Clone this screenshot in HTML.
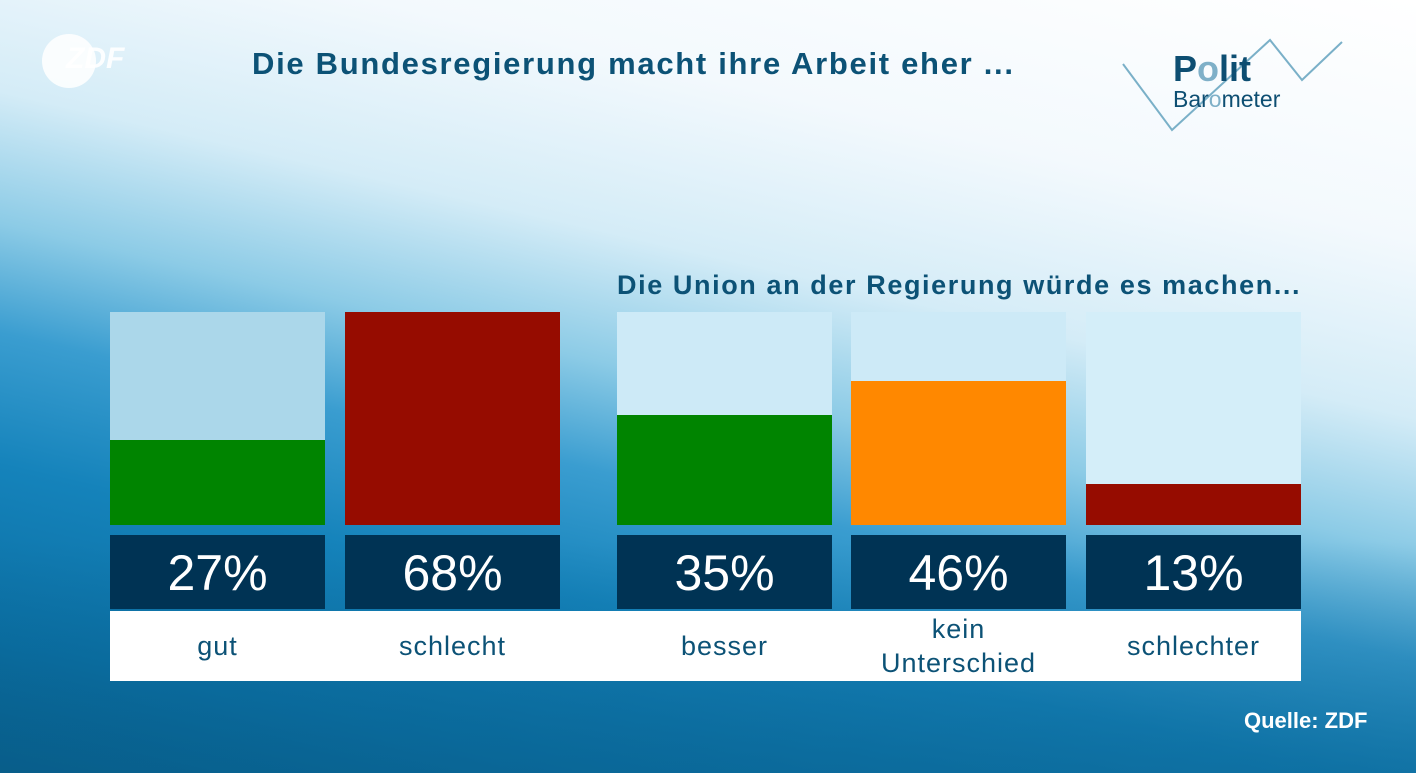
<!DOCTYPE html>
<html><head><meta charset="utf-8"><style>
body{margin:0;width:1416px;height:773px;overflow:hidden;font-family:"Liberation Sans",sans-serif;}
#bg{position:absolute;left:0;top:0;width:1416px;height:773px;
background:
linear-gradient(to bottom, rgba(8,90,130,0) 70%, rgba(8,95,140,0.5) 100%),
linear-gradient(193deg,#ffffff 0%,#f3f9fd 22%,#d4ecf7 38%,#8ccbe6 50%,#3a9dd0 60%,#1583bb 72%,#0b6fa3 88%,#085c88 100%);}
.t{position:absolute;color:#0c5276;font-weight:bold;white-space:nowrap;}
.bar{position:absolute;top:312px;width:215px;height:213px;background:#cdeaf7;}
.bar div{position:absolute;left:0;bottom:0;width:100%;}
.num{position:absolute;top:535px;width:215px;height:74px;background:#003354;color:#fff;font-size:50px;text-align:center;line-height:76px;}
.lab{position:absolute;top:611px;width:215px;height:70px;color:#0c5276;font-size:27px;text-align:center;display:flex;align-items:center;justify-content:center;line-height:34px;letter-spacing:1px;}
</style></head><body>
<div id="bg"></div>
<div style="position:absolute;left:42px;top:34px;width:54px;height:54px;border-radius:50%;background:rgba(255,255,255,0.85)"></div>
<div class="t" style="left:66px;top:42px;font-size:30px;color:rgba(255,255,255,0.9);font-style:italic">ZDF</div>
<div class="t" style="left:252px;top:46px;font-size:31px;letter-spacing:1.7px">Die Bundesregierung macht ihre Arbeit eher ...</div>
<svg style="position:absolute;left:0;top:0" width="1416" height="773"><polyline points="1123,64 1172,130 1270,40 1302,80 1342,42" fill="none" stroke="#7ab0c8" stroke-width="2"/></svg>
<div class="t" style="left:1173px;top:48px;font-size:36px;color:#0d4e72">P<span style="color:#7fb0c8">o</span>lit</div>
<div class="t" style="left:1173px;top:86px;font-size:23px;font-weight:normal;color:#0d4e72">Bar<span style="color:#7fb0c8">o</span>meter</div>
<div class="t" style="left:617px;top:270px;font-size:27px;letter-spacing:1.6px">Die Union an der Regierung würde es machen...</div>

<div class="bar" style="left:110px;background:#abd7ea"><div style="height:85px;background:#008400"></div></div>
<div class="bar" style="left:345px"><div style="height:213px;background:#960c00"></div></div>
<div class="bar" style="left:617px"><div style="height:110px;background:#008400"></div></div>
<div class="bar" style="left:851px"><div style="height:144px;background:#ff8800"></div></div>
<div class="bar" style="left:1086px;background:#d4eef9"><div style="height:41px;background:#960c00"></div></div>

<div class="num" style="left:110px">27%</div>
<div class="num" style="left:345px">68%</div>
<div class="num" style="left:617px">35%</div>
<div class="num" style="left:851px">46%</div>
<div class="num" style="left:1086px">13%</div>

<div style="position:absolute;left:110px;top:611px;width:1191px;height:70px;background:#fff"></div>
<div class="lab" style="left:110px">gut</div>
<div class="lab" style="left:345px">schlecht</div>
<div class="lab" style="left:617px">besser</div>
<div class="lab" style="left:851px">kein<br>Unterschied</div>
<div class="lab" style="left:1086px">schlechter</div>

<div class="t" style="left:1244px;top:708px;font-size:22px;color:#fff">Quelle: ZDF</div>
</body></html>
